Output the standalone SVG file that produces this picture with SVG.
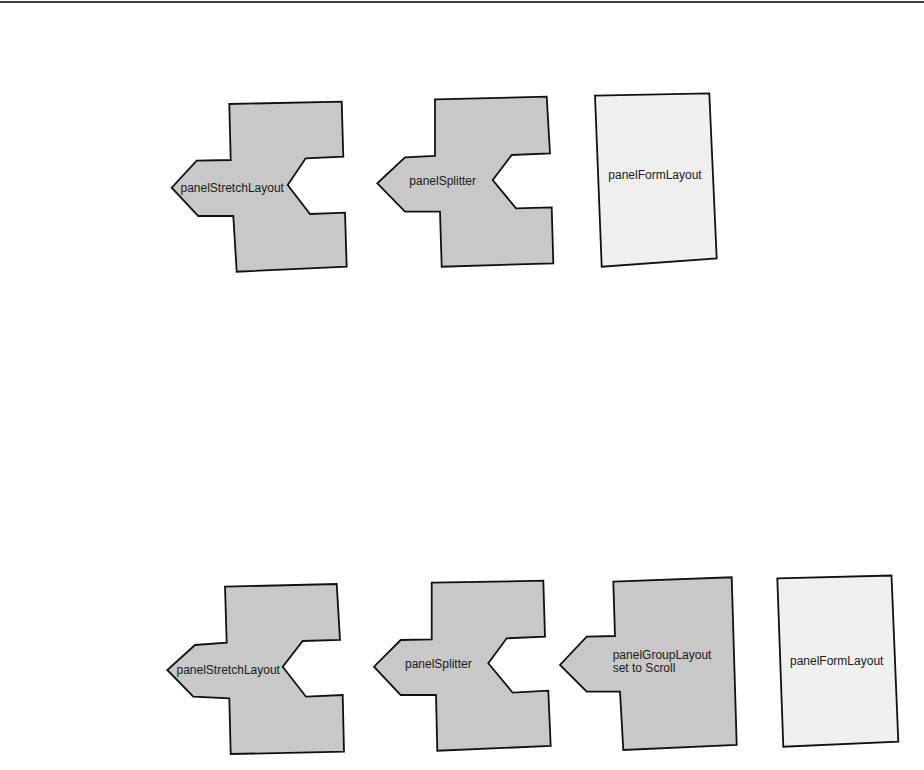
<svg xmlns="http://www.w3.org/2000/svg" width="924" height="770" viewBox="0 0 924 770">
<style>
.shape{fill:#c8c8c8;stroke:#111;stroke-width:1.8;stroke-linejoin:miter}
.form{fill:#efefef;stroke:#111;stroke-width:1.8}
.lbl{font-family:"Liberation Sans",Arial,sans-serif;font-size:12px;fill:#1a1a1a}
</style>
<rect width="924" height="770" fill="#fff"/>
<g id="connectors"></g>
<line x1="0" y1="2" x2="924" y2="2" stroke="#000" stroke-width="1.5"/>
<g id="top-stretch">
<polygon class="shape" points="229.3,104 341.7,101.7 343.3,156.7 305.7,158.3 287.7,185 310,214 345,212.7 346.7,266.7 236.7,271.7 233.3,216 198.3,216 171.7,187.7 196.7,160.7 230.7,160"/>
<text class="lbl" x="180.5" y="191.5">panelStretchLayout</text>
</g>
<g id="top-splitter">
<polygon class="shape" points="435,99.3 546.7,96.7 550,153.3 511.7,155 492.7,180 516,208.3 551.7,207.3 553.3,263.3 441.7,266.7 440,211.7 405,211.7 377.3,183.3 405,157.3 435,156"/>
<text class="lbl" x="409.3" y="185">panelSplitter</text>
</g>
<g id="top-form">
<polygon class="form" points="595,95.7 709.3,93.3 716.7,258.3 601.7,266.7"/>
<text class="lbl" x="608.3" y="179">panelFormLayout</text>
</g>
<g id="bottom-stretch">
<polygon class="shape" points="225,586.7 336.7,584 340,640 302.7,641 282.7,666.7 306,696.7 342.7,695 344,751.7 230.7,754 229.3,698.3 193.3,696.7 167.3,670 195,645 226.7,642.7"/>
<text class="lbl" x="176.5" y="674">panelStretchLayout</text>
</g>
<g id="bottom-splitter">
<polygon class="shape" points="431.7,582.7 543.3,580.7 545,636.7 506.7,638.3 488.3,663.3 512.7,692.7 548.3,690.7 550.7,746 437.3,750.7 436,695 400.7,695 374,666.7 400.7,640 431.7,639.3"/>
<text class="lbl" x="405" y="668.3">panelSplitter</text>
</g>
<g id="bottom-group">
<polygon class="shape" points="613.3,581.7 731.7,577.3 736.7,745 623.3,750 620,691.7 586.7,691.7 560,665 586.7,636.7 615,636"/>
<text class="lbl" x="612.7" y="659.3">panelGroupLayout</text>
<text class="lbl" x="612.7" y="672">set to Scroll</text>
</g>
<g id="bottom-form">
<polygon class="form" points="777.3,578.3 891.5,575.5 898.3,741.7 783.3,746.7"/>
<text class="lbl" x="790" y="665">panelFormLayout</text>
</g>
</svg>
